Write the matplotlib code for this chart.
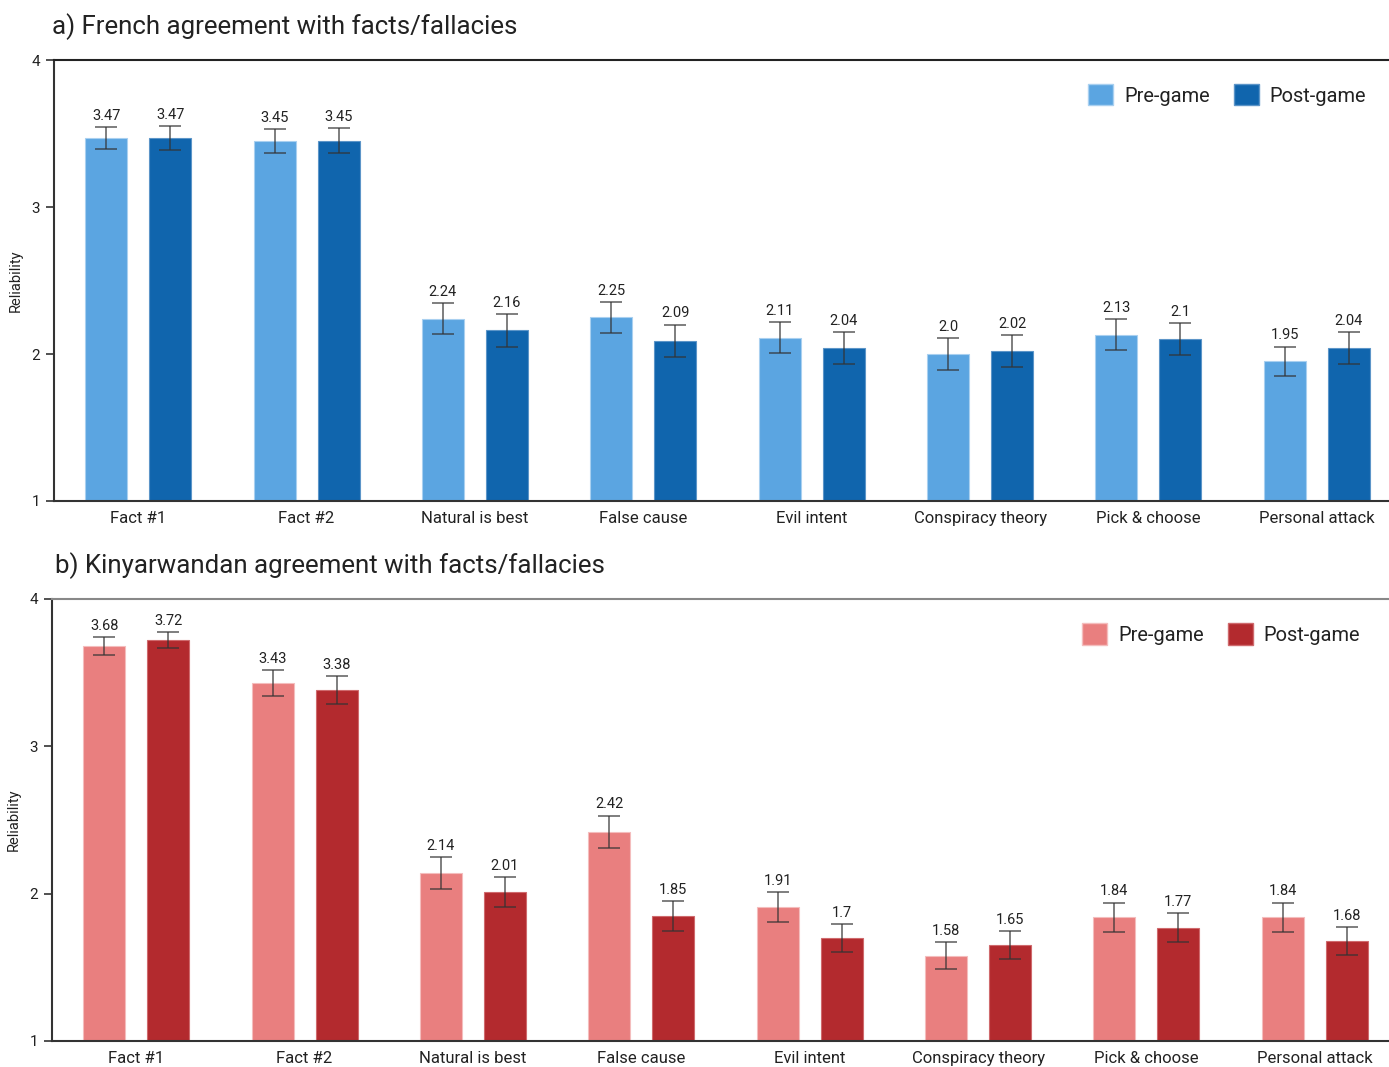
import numpy as np
import matplotlib
matplotlib.use("Agg")
import matplotlib.pyplot as plt
from matplotlib.patches import Patch

plt.rcParams['font.family'] = ['Roboto', 'DejaVu Sans']

categories = ["Fact #1", "Fact #2", "Natural is best", "False cause", "Evil intent",
              "Conspiracy theory", "Pick & choose", "Personal attack"]

# French respondents
fr_pre = [3.47, 3.45, 2.24, 2.25, 2.11, 2.0, 2.13, 1.95]
fr_post = [3.47, 3.45, 2.16, 2.09, 2.04, 2.02, 2.1, 2.04]
fr_pre_err = [0.075, 0.08, 0.105, 0.105, 0.105, 0.11, 0.105, 0.10]
fr_post_err = [0.08, 0.085, 0.11, 0.11, 0.11, 0.11, 0.11, 0.11]

# Kinyarwandan respondents
rw_pre = [3.68, 3.43, 2.14, 2.42, 1.91, 1.58, 1.84, 1.84]
rw_post = [3.72, 3.38, 2.01, 1.85, 1.7, 1.65, 1.77, 1.68]
rw_pre_err = [0.06, 0.09, 0.11, 0.11, 0.10, 0.09, 0.10, 0.10]
rw_post_err = [0.055, 0.095, 0.10, 0.10, 0.095, 0.095, 0.10, 0.095]

series_labels = ["Pre-game", "Post-game"]
y_ticks = [1, 2, 3, 4]

W, H = 1389, 1067
TXT = "#222222"

fig = plt.figure(figsize=(W / 100, H / 100), dpi=100)


def panel(rect, pre, post, pre_err, post_err, colors, edges, title, title_xy,
          legend_xy, top_spine_color):
    ax = fig.add_axes(rect)
    x = np.arange(len(categories))
    off, width = 0.19, 0.25
    err_kw = dict(ecolor="#333333", elinewidth=1.1, capsize=8, capthick=1.1, alpha=0.8)
    for xs, vals, errs, c, e in ((x - off, pre, pre_err, colors[0], edges[0]),
                                 (x + off, post, post_err, colors[1], edges[1])):
        ax.bar(xs, vals, width, color=c, edgecolor=e, linewidth=0.8, zorder=2)
        ax.errorbar(xs, vals, yerr=errs, fmt="none", zorder=3, **err_kw)
        for xi, v, er in zip(xs, vals, errs):
            ax.annotate(str(v), xy=(xi, v + er), xytext=(0, 3),
                        textcoords="offset points", ha="center", va="bottom",
                        fontsize=10.5, color=TXT)
    ax.set_xlim(-0.5, 7.5)
    ax.set_ylim(1, 4)
    ax.set_yticks(y_ticks)
    ax.set_yticklabels([str(t) for t in y_ticks], fontsize=11, color=TXT)
    ax.set_xticks(x)
    ax.set_xticklabels(categories, fontsize=12, color=TXT)
    ax.tick_params(axis="x", length=0, pad=7)
    ax.tick_params(axis="y", length=6, width=1.2, color="#333333", pad=4)
    ax.set_ylabel("Reliability", fontsize=10.5, color=TXT, labelpad=6)
    for s in ("left", "bottom"):
        ax.spines[s].set_color("#333333")
        ax.spines[s].set_linewidth(1.5)
    ax.spines["top"].set_color(top_spine_color)
    ax.spines["top"].set_linewidth(1.5)
    ax.spines["right"].set_visible(False)
    fig.text(title_xy[0], title_xy[1], title, fontsize=18.6, color=TXT,
             ha="left", va="center")
    handles = [Patch(facecolor=colors[0], edgecolor=edges[0]),
               Patch(facecolor=colors[1], edgecolor=edges[1])]
    fig.legend(handles, series_labels, loc="center right", bbox_to_anchor=legend_xy,
               ncol=2, frameon=False, fontsize=14.4, handlelength=1.25,
               handleheight=1.25, handletextpad=0.55, columnspacing=1.2,
               borderaxespad=0, borderpad=0, labelcolor=TXT)
    return ax


panel([54 / W, 1 - 501 / H, 1347 / W, 441 / H], fr_pre, fr_post, fr_pre_err, fr_post_err,
      ("#5BA5E1", "#1065AD"), ("#A9D0F0", "#5C95C8"),
      "a) French agreement with facts/fallacies", (52 / W, 1 - 27 / H),
      (1366 / W, 1 - 95 / H), "#222222")

panel([52 / W, 1 - 1041 / H, 1347 / W, 442 / H], rw_pre, rw_post, rw_pre_err, rw_post_err,
      ("#E97F7F", "#B32A2E"), ("#F4BDBD", "#CF6A6D"),
      "b) Kinyarwandan agreement with facts/fallacies", (55 / W, 1 - 566 / H),
      (1360 / W, 1 - 634 / H), "#888888")

fig.savefig("out.png", dpi=100)
